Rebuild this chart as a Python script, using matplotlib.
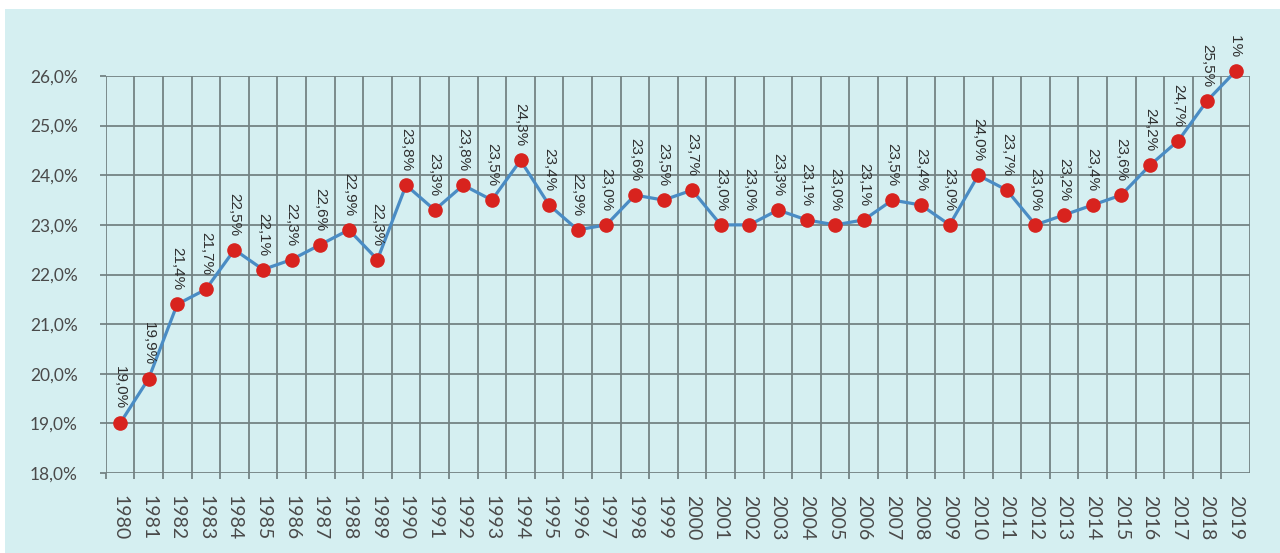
import matplotlib
matplotlib.use("Agg")
import matplotlib.pyplot as plt
from matplotlib.patches import Rectangle
import numpy as np

years = [str(y) for y in range(1980, 2020)]
values = [19.0, 19.9, 21.4, 21.7, 22.5, 22.1, 22.3, 22.6, 22.9, 22.3,
          23.8, 23.3, 23.8, 23.5, 24.3, 23.4, 22.9, 23.0, 23.6, 23.5,
          23.7, 23.0, 23.0, 23.3, 23.1, 23.0, 23.1, 23.5, 23.4, 23.0,
          24.0, 23.7, 23.0, 23.2, 23.4, 23.6, 24.2, 24.7, 25.5, 26.1]
yticks = [18, 19, 20, 21, 22, 23, 24, 25, 26]

BG = "#d5eff1"
GRID = "#748384"
W, H = 1280, 553

fig = plt.figure(figsize=(W / 100, H / 100), dpi=100, facecolor=BG)
ax = fig.add_axes([105.7 / W, 1 - 473 / H, (1250 - 105.7) / W, (473 - 76) / H])
ax.set_facecolor(BG)

x = np.arange(len(years))
ax.plot(x, values, color="#4a8cc4", lw=2.3, zorder=3, clip_on=False)
ax.plot(x, values, "o", color="#d8231e", ms=9.5, mec="#d8231e", zorder=4, clip_on=False)

for xi, v in zip(x, values):
    ax.annotate(f"{v:.1f}%".replace(".", ","), (xi, v), xytext=(0, 10),
                textcoords="offset points", rotation=270, ha="center", va="bottom",
                fontsize=11, family="Liberation Sans", color="#2e2e2e", zorder=5,
                annotation_clip=False)

ax.set_xlim(-0.5, len(years) - 0.5)
ax.set_ylim(18, 26)
ax.set_yticks(yticks)
ax.set_yticklabels([f"{t:.1f}%".replace(".", ",") for t in yticks],
                   family="Lato", fontsize=12.5, color="#4a4a4a")
ax.set_xticks(x - 0.5, minor=False)
ax.set_xticklabels([])
ax.set_xticks(x, minor=True)
ax.set_xticklabels(years, minor=True, rotation=270, family="Lato", fontsize=14,
                   color="#4a4a4a")
ax.tick_params(axis="x", which="major", length=4, color=GRID, width=1.3)
ax.tick_params(axis="x", which="minor", length=0, pad=16)
ax.tick_params(axis="y", length=4, color=GRID, width=1.3, pad=16)
ax.grid(True, which="major", color=GRID, lw=1.3)
ax.set_axisbelow(True)
for s in ax.spines.values():
    s.set_visible(False)
ax.axvline(len(years) - 0.5, color=GRID, lw=1.3, zorder=1)

# cover above plot region (labels cut off) and white border
fig.patches.append(Rectangle((0, 1 - 36 / H), 1, (36 - 9) / H, transform=fig.transFigure,
                             facecolor=BG, edgecolor="none", zorder=10))
fig.patches.append(Rectangle((0, 1 - 9 / H), 1, 9 / H, transform=fig.transFigure,
                             facecolor="white", edgecolor="none", zorder=11))
fig.patches.append(Rectangle((0, 0), 5 / W, 1, transform=fig.transFigure,
                             facecolor="white", edgecolor="none", zorder=11))

fig.savefig("out.png", dpi=100, facecolor=BG)
